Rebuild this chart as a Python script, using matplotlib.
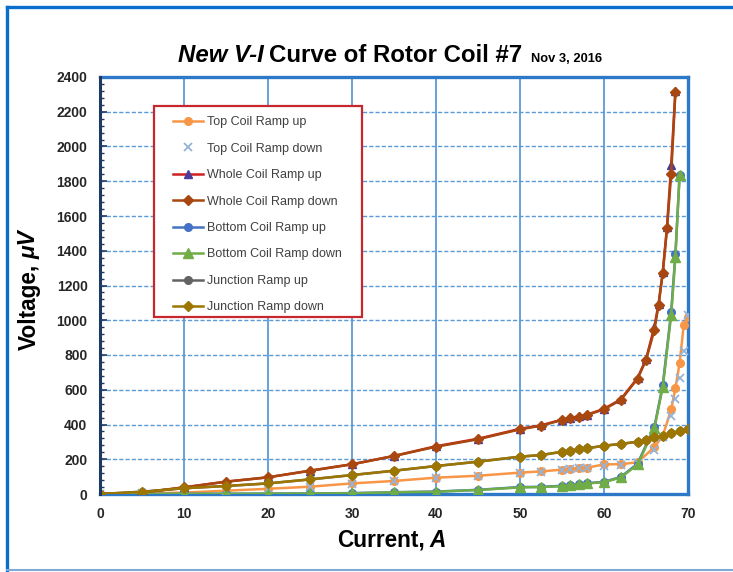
import matplotlib
matplotlib.use("Agg")
import matplotlib.pyplot as plt
import matplotlib.font_manager as fm
from matplotlib.lines import Line2D
from matplotlib.patches import Rectangle

# ---------------- data ----------------
cur_top = [0, 5, 10, 15, 20, 25, 30, 35, 40, 45, 50, 52.5, 55, 56, 57, 58, 60, 62, 64, 66, 67, 68, 68.5, 69, 69.5, 70]
top_up = [0, 3, 8, 19, 30, 42, 61, 75, 94, 105, 123, 130, 140, 145, 149, 152, 170, 172, 182, 270, 335, 487, 608, 752, 975, 1020]
top_down = [0, 3, 8, 19, 30, 42, 60, 74, 92, 104, 121, 128, 138, 143, 147, 150, 160, 168, 178, 253, 330, 450, 548, 666, 824, 1030]

cur_whole = [0, 5, 10, 15, 20, 25, 30, 35, 40, 45, 50, 52.5, 55, 56, 57, 58, 60, 62, 64, 65, 66, 66.5, 67, 67.5, 68, 68.5]
whole_up = [0, 8, 38, 71, 96, 134, 171, 219, 275, 318, 375, 395, 428, 437, 447, 457, 490, 545, 668, 775, 963, 1095, 1280, 1535, 1893, 2320]
whole_down = [0, 8, 38, 71, 96, 134, 171, 219, 272, 315, 372, 393, 426, 435, 445, 455, 487, 541, 664, 771, 944, 1090, 1274, 1529, 1842, 2315]

cur_bottom = [0, 5, 10, 15, 20, 25, 30, 35, 40, 45, 50, 52.5, 55, 56, 57, 58, 60, 62, 64, 66, 67, 68, 68.5, 69]
bottom_up = [0, 0, 1, 1, 2, 3, 5, 10, 14, 24, 40, 41, 47, 53, 57, 62, 70, 98, 175, 387, 627, 1050, 1380, 1836]
bottom_down = [0, 0, 1, 1, 2, 3, 4, 10, 13, 23, 38, 40, 45, 52, 56, 61, 68, 95, 170, 378, 618, 1030, 1366, 1836]

cur_junc = [0, 5, 10, 15, 20, 25, 30, 35, 40, 45, 50, 52.5, 55, 56, 57, 58, 60, 62, 64, 65, 66, 67, 68, 69, 70]
junc_up = [0, 13, 33, 46, 61, 84, 109, 134, 161, 186, 215, 224, 243, 250, 257, 263, 278, 288, 301, 311, 326, 334, 349, 362, 372]
junc_down = [0, 13, 33, 46, 61, 84, 109, 134, 161, 186, 215, 224, 243, 250, 257, 263, 278, 288, 301, 311, 326, 334, 349, 362, 372]

series_labels = ["Top Coil Ramp up", "Top Coil Ramp down", "Whole Coil Ramp up", "Whole Coil Ramp down",
                 "Bottom Coil Ramp up", "Bottom Coil Ramp down", "Junction Ramp up", "Junction Ramp down"]
x_ticks = [0, 10, 20, 30, 40, 50, 60, 70]
y_ticks = [0, 200, 400, 600, 800, 1000, 1200, 1400, 1600, 1800, 2000, 2200, 2400]

# ---------------- fonts ----------------
names = {f.name for f in fm.fontManager.ttflist}
if "Liberation Sans Narrow" in names:
    NARROW = "Liberation Sans Narrow"
    title_fs, lab_fs, small_fs = 18, 16.5, 8
else:
    NARROW = "Liberation Sans"
    title_fs, lab_fs, small_fs = 17.3, 16.3, 9.3
BASE = "Liberation Sans"

W, H = 733, 572
fig = plt.figure(figsize=(W / 100, H / 100), dpi=100)
fig.patch.set_facecolor("white")

L, R, T, B = 100, 688, 77, 494
ax = fig.add_axes([L / W, 1 - B / H, (R - L) / W, (B - T) / H])

ms = 5.5
ax.plot(cur_top, top_up, color="#F79646", lw=1.8, marker="o", ms=ms, label=series_labels[0], zorder=3)
ax.plot(cur_top, top_down, color="#95B3D7", lw=0, marker="x", ms=6, mew=1.3, label=series_labels[1], zorder=4)
ax.plot(cur_whole, whole_up, color="#D02020", lw=1.8, marker="^", ms=ms + 0.5, mfc="#4B3C9C", mec="#4B3C9C",
        label=series_labels[2], zorder=3)
ax.plot(cur_whole, whole_down, color="#A8470F", lw=1.8, marker="D", ms=ms - 0.5, label=series_labels[3], zorder=4)
ax.plot(cur_bottom, bottom_up, color="#4472C4", lw=1.8, marker="o", ms=ms, label=series_labels[4], zorder=3)
ax.plot(cur_bottom, bottom_down, color="#70AD47", lw=1.8, marker="^", ms=ms + 1, label=series_labels[5], zorder=4)
ax.plot(cur_junc, junc_up, color="#636363", lw=1.8, marker="o", ms=ms, label=series_labels[6], zorder=3)
ax.plot(cur_junc, junc_down, color="#9C7600", lw=1.8, marker="D", ms=ms - 0.5, label=series_labels[7], zorder=4)

ax.set_xlim(0, 70)
ax.set_ylim(0, 2400)
ax.set_xticks(x_ticks)
ax.set_yticks(y_ticks)
ax.set_yticks(range(0, 2401, 40), minor=True)

for lab in ax.get_xticklabels() + ax.get_yticklabels():
    lab.set_fontfamily(BASE)
    lab.set_fontweight("bold")
    lab.set_fontsize(10)
    lab.set_color("#262626")

ax.tick_params(axis="x", length=0, pad=9)
ax.tick_params(axis="y", which="major", direction="in", length=5, width=1.2, color="#1F3A60", pad=9)
ax.tick_params(axis="y", which="minor", direction="in", length=3, width=1, color="#1F3A60")

ax.grid(axis="x", color="#5B9BD5", lw=1.3, ls="-", zorder=1)
ax.grid(axis="y", which="major", color="#5B9BD5", lw=1.0, ls=(0, (3, 1.5)), zorder=1)
ax.set_axisbelow(True)

for side in ("top", "right", "bottom"):
    ax.spines[side].set_color("#2E78C8")
    ax.spines[side].set_linewidth(2.4)
ax.spines["left"].set_color("#1F3A60")
ax.spines["left"].set_linewidth(2.2)
ax.spines["left"].set_zorder(6)

# ---------------- figure border ----------------
fig.add_artist(Line2D([7 / W, 1], [1 - 7 / H, 1 - 7 / H], transform=fig.transFigure, color="#0A6ECC", lw=2.4))
fig.add_artist(Line2D([7 / W, 7 / W], [1 - 7 / H, 1 - 570 / H], transform=fig.transFigure, color="#0A6ECC", lw=2.4))
fig.add_artist(Line2D([7 / W, 1], [1 - 570 / H, 1 - 570 / H], transform=fig.transFigure, color="#7FAAD8", lw=1.5))

# ---------------- legend ----------------
fig.add_artist(Rectangle((154 / W, 1 - 317 / H), 208 / W, 211 / H, transform=fig.transFigure,
                         facecolor="white", edgecolor="#C8282D", lw=1.6, zorder=2))
leg = fig.legend(loc="upper left", bbox_to_anchor=(167 / W, 1 - 110 / H), bbox_transform=fig.transFigure,
                 frameon=False, borderpad=0, handlelength=2.4, handletextpad=0.3, labelspacing=1.155,
                 prop={"family": BASE, "size": 9})
leg.set_zorder(5)
for t in leg.get_texts():
    t.set_color("#404040")

# ---------------- composite texts ----------------
renderer = fig.canvas.get_renderer()


def place_h(pieces, x0, y_base, gaps):
    x = x0
    for i, (s, kw) in enumerate(pieces):
        t = fig.text(x / W, 1 - y_base / H, s, ha="left", va="baseline", **kw)
        w = t.get_window_extent(renderer).width
        x += w + (gaps[i] if i < len(gaps) else 0)


def place_v(pieces, x_base, y0, gaps):
    y = y0
    for i, (s, kw) in enumerate(pieces):
        t = fig.text(x_base / W, 1 - y / H, s, ha="left", va="baseline", rotation=90,
                     rotation_mode="anchor", **kw)
        h = t.get_window_extent(renderer).height
        y -= h + (gaps[i] if i < len(gaps) else 0)


tkw = dict(family=NARROW, weight="bold", size=title_fs, color="black")
place_h([("New V-I", dict(tkw, style="italic")),
         ("Curve of Rotor Coil #7", tkw),
         ("Nov 3, 2016", dict(family=NARROW, weight="bold", size=small_fs, color="black"))],
        178, 62, [5, 9])

lkw = dict(family=NARROW, weight="bold", size=lab_fs, color="black")
place_h([("Current,", lkw), ("A", dict(lkw, style="italic"))], 337, 547, [5])
place_v([("Voltage,", lkw), ("\u03bcV", dict(lkw, style="italic"))], 36, 350, [5])

fig.savefig("out.png", dpi=100, facecolor="white")
